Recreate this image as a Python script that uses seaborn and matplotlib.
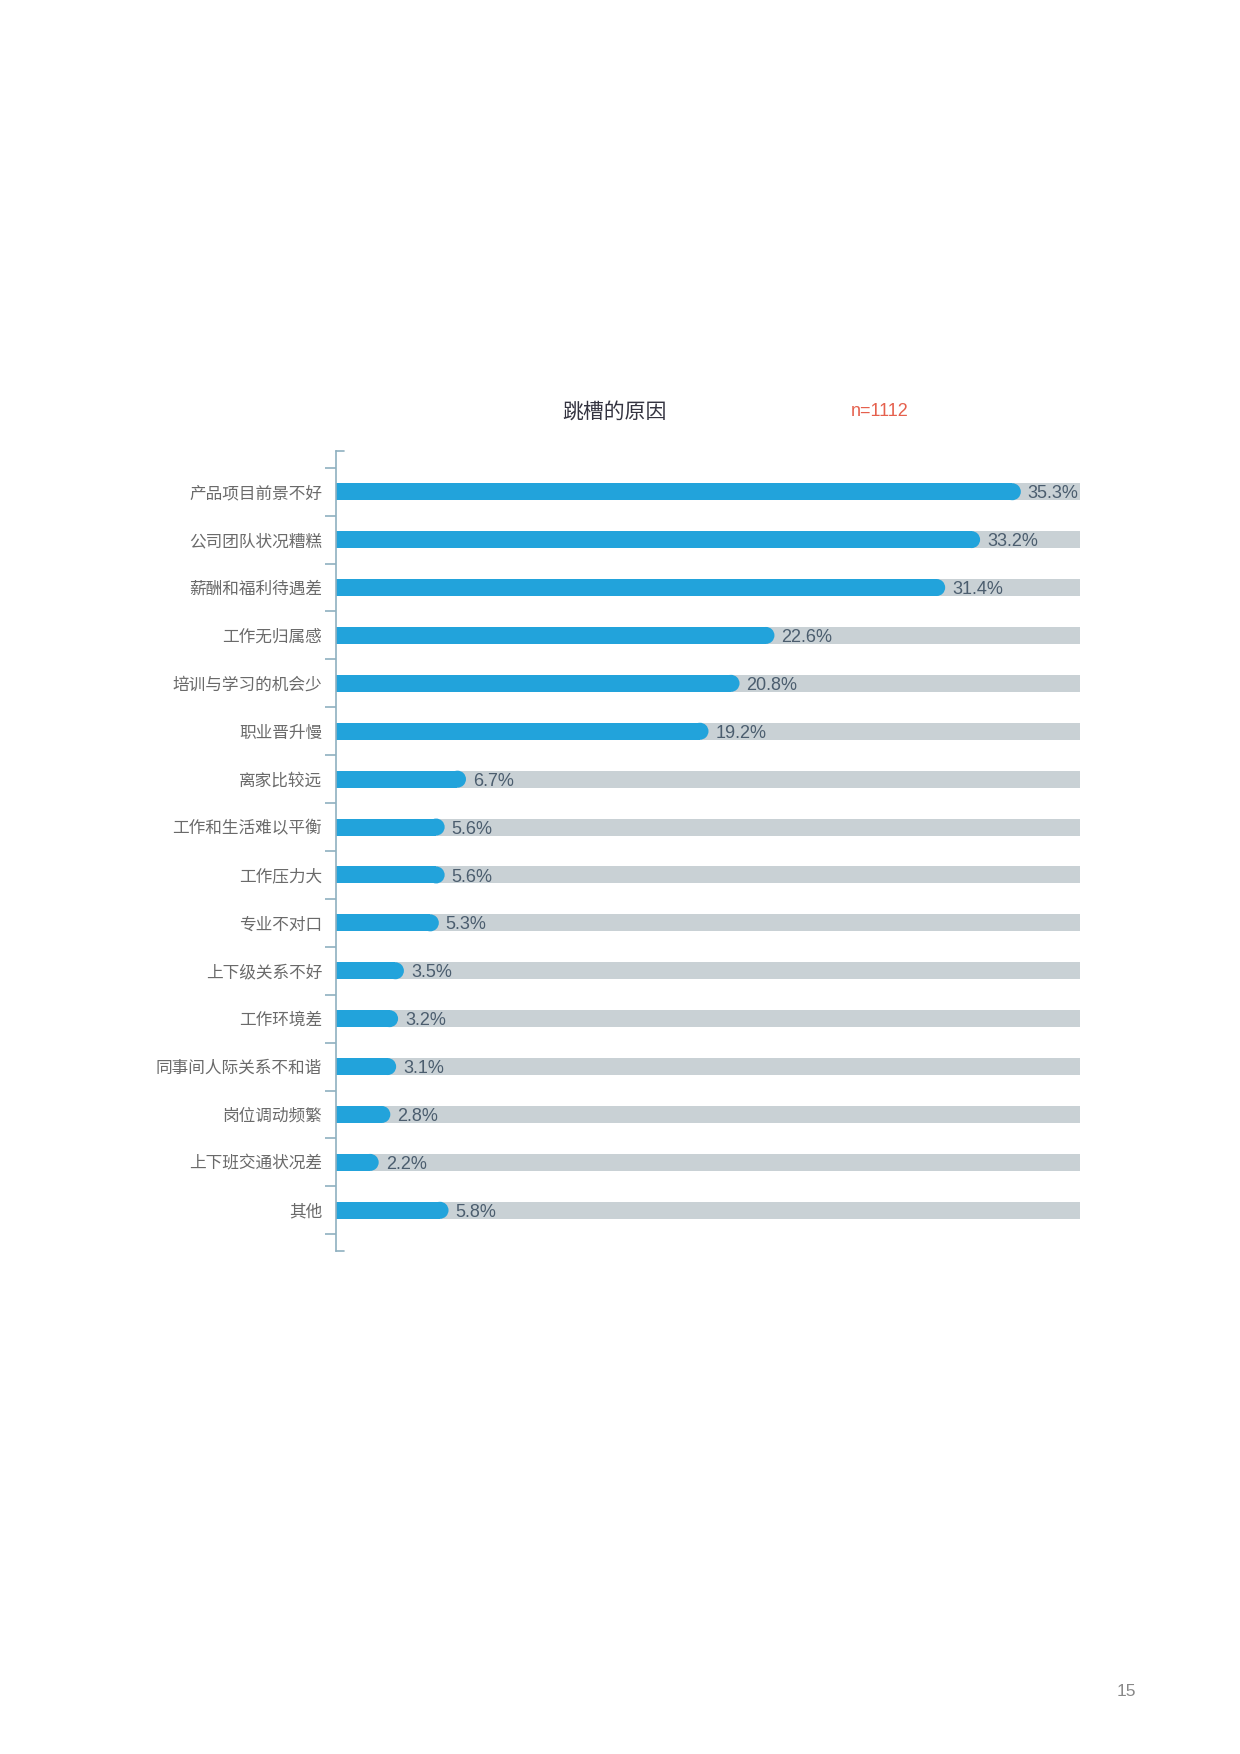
import matplotlib
matplotlib.use("Agg")
import matplotlib.pyplot as plt
import seaborn as sns
import pandas as pd
from matplotlib.patches import Ellipse

# data
reasons = ["产品项目前景不好", "公司团队状况糟糕", "薪酬和福利待遇差", "工作无归属感",
           "培训与学习的机会少", "职业晋升慢", "离家比较远", "工作和生活难以平衡",
           "工作压力大", "专业不对口", "上下级关系不好", "工作环境差",
           "同事间人际关系不和谐", "岗位调动频繁", "上下班交通状况差", "其他"]
shares = [35.3, 33.2, 31.4, 22.6, 20.8, 19.2, 6.7, 5.6,
          5.6, 5.3, 3.5, 3.2, 3.1, 2.8, 2.2, 5.8]
track_max = 38.35
title = "跳槽的原因"
sample_note = "n=1112"
page_no = "15"

BLUE = "#22a3db"
TRACK = "#c9d1d5"
AXIS = "#8fb0c0"
VALUE = "#4b5d6e"

sns.set_theme(style="white")
plt.rcParams['font.family'] = ['Noto Sans CJK SC', 'DejaVu Sans']

df = pd.DataFrame({"reason": reasons, "share": shares, "track": [track_max] * len(reasons)})

fig = plt.figure(figsize=(12.4, 17.54), dpi=100)
ax = fig.add_axes([336 / 1240, 1 - 1251 / 1754, 744 / 1240, 800 / 1754])

bar_h = 17 / 48
sns.barplot(data=df, y="reason", x="track", color=TRACK, width=bar_h,
            saturation=1, ax=ax, orient="h")
n_track = len(ax.patches)
sns.barplot(data=df, y="reason", x="share", color=BLUE, width=bar_h,
            saturation=1, ax=ax, orient="h")

ax.set_xlim(0, track_max)
ax.set_ylim(len(reasons) - 0.5 + 0.35, -0.5 - 0.35)

# rounded right end on the blue bars
px_per_x = 744 / track_max
r = (17 / 2) / px_per_x
for p in ax.patches[n_track:]:
    w = p.get_width()
    y0 = p.get_y()
    h = p.get_height()
    p.set_width(w - r)
    p.set_linewidth(0)
    ax.add_patch(Ellipse((w - r, y0 + h / 2), 2 * r, h, facecolor=BLUE,
                         edgecolor="none", zorder=p.get_zorder()))
for p in ax.patches[:n_track]:
    p.set_linewidth(0)

for i, v in enumerate(shares):
    ax.annotate(f"{v}%", xy=(v, i), xytext=(5, -1.5), textcoords="offset points",
                va="center", ha="left", fontsize=13, color=VALUE,
                family=["Liberation Sans", "DejaVu Sans"])

# axis styling
for s in ["top", "right", "bottom"]:
    ax.spines[s].set_visible(False)
ax.spines["left"].set_color(AXIS)
ax.spines["left"].set_linewidth(1.2)
ax.set_xticks([])
ax.set_xlabel("")
ax.set_ylabel("")
ax.set_yticks(range(len(reasons)))
ax.set_yticklabels(reasons, fontsize=12, color="#6a6a6a")
ax.set_yticks([i - 0.5 for i in range(len(reasons) + 1)], minor=True)
ax.tick_params(axis="y", which="major", length=0, pad=10)
ax.tick_params(axis="y", which="minor", length=8, width=1.2, color=AXIS, left=True)
cap = 8 / px_per_x
for yy in [-0.85, len(reasons) - 0.5 + 0.35]:
    ax.plot([0, cap], [yy, yy], color=AXIS, lw=1.2, clip_on=False)

fig.text(614 / 1240, 1 - 412 / 1754, title, ha="center", va="center",
         fontsize=15, color="#333340")
fig.text(880 / 1240, 1 - 412 / 1754, sample_note, ha="center", va="center",
         fontsize=13, color="#e5604d", family=["Liberation Sans", "DejaVu Sans"])
fig.text(1126 / 1240, 1 - 1691 / 1754, page_no, ha="center", va="center",
         fontsize=12.5, color="#888888", family=["Liberation Sans", "DejaVu Sans"])

fig.savefig("out.png", dpi=100)
